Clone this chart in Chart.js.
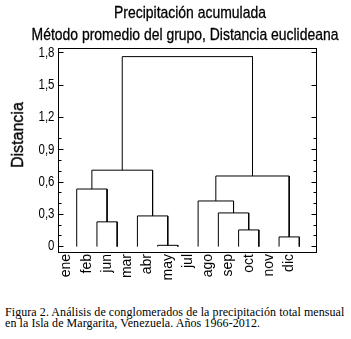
<!DOCTYPE html>
<html>
<head>
<meta charset="utf-8">
<script src="https://cdn.jsdelivr.net/npm/chart.js@4"></script>
<style>
  body { margin: 0; background: #fff; }
  #wrap { position: relative; width: 351px; height: 339px; background: #fff; overflow: hidden; }
  #c { position: absolute; left: 0; top: 0; }
  .ttl { position: absolute; font: 17px 'Liberation Sans', Arial, sans-serif; color: #000; white-space: nowrap;
         transform: translate(-50%, -50%) scaleX(0.82); -webkit-text-stroke: 0.3px #000; }
  #ylab { position: absolute; left: 17.5px; top: 135px; transform: translate(-50%, -50%) rotate(-90deg);
          font: 16px 'Liberation Sans', Arial, sans-serif; color: #000; white-space: nowrap; -webkit-text-stroke: 0.3px #000; }
  #cap { position: absolute; left: 5px; top: 307px; font: 12px 'Liberation Serif', 'Times New Roman', serif;
         line-height: 10.7px; letter-spacing: 0.07px; color: #000; white-space: nowrap; }
</style>
</head>
<body>
<div id="wrap">
  <canvas id="c" width="351" height="292"></canvas>
  <div class="ttl" style="left:190px;top:13px">Precipitación acumulada</div>
  <div class="ttl" style="left:184.5px;top:35px">Método promedio del grupo, Distancia euclideana</div>
  <div id="ylab">Distancia</div>
  <div id="cap">Figura 2. Análisis de conglomerados de la precipitación total mensual<br>en la Isla de Margarita, Venezuela. Años 1966-2012.</div>
</div>
<script>
// hojas del dendrograma, en el orden en que aparecen las etiquetas
var months = ["ene", "feb", "jun", "mar", "abr", "may", "jul", "ago", "sep", "oct", "nov", "dic"];

// uniones (0-11 = hojas, 12+ = grupos formados en cada paso)
var mergeLeft   = [1,    0,     4,     3,     13,   8,     7,     6,     10,   19,    16];
var mergeRight  = [2,    12,    5,     14,    15,   9,     17,    18,    11,   20,    21];
var mergeHeight = [0.23, 0.535, 0.012, 0.285, 0.71, 0.155, 0.313, 0.424, 0.09, 0.656, 1.765];

var yTickValues = [0, 0.3, 0.6, 0.9, 1.2, 1.5, 1.8];
var yTickLabels = ["0", "0,3", "0,6", "0,9", "1,2", "1,5", "1,8"];

var sans = "'Liberation Sans', Arial, sans-serif";

// posicion y altura de cada nodo
var nodeX = months.map(function(m, i) { return i; });
var nodeH = months.map(function() { return 0; });
var datasets = [];
mergeLeft.forEach(function(l, k) {
	var r = mergeRight[k], h = mergeHeight[k];
	datasets.push({
		data: [
			{x: nodeX[l], y: nodeH[l]},
			{x: nodeX[l], y: h},
			{x: nodeX[r], y: h},
			{x: nodeX[r], y: nodeH[r]}
		],
		borderColor: "#000",
		borderWidth: 1,
		pointRadius: 0,
		showLine: true,
		fill: false,
		tension: 0
	});
	nodeX.push((nodeX[l] + nodeX[r]) / 2);
	nodeH.push(h);
});

var minorTicks = [];
for (var t = 0; t <= 18; t++) {
	if (t % 3) minorTicks.push(t / 10);
}

var xMin = -0.9, xMax = 11.85, yMin = -0.05, yMax = 1.845;

function setTicks(values) {
	return function(scale) {
		scale.ticks = values.map(function(v) { return {value: v}; });
	};
}

// etiquetas del eje y estrechadas (como Arial Narrow)
function narrowLabels(s) {
	if (s._narrow) return;
	s._narrow = true;
	var draw = s.drawLabels;
	s.drawLabels = function(area) {
		var ctx = this.ctx, rx = this.right - 4;
		ctx.save();
		ctx.translate(rx, 0);
		ctx.scale(0.82, 1);
		ctx.translate(-rx, 0);
		draw.call(this, area);
		ctx.restore();
	};
}

function yAxis(pos, values, len, labels, weight) {
	return {
		type: 'linear',
		position: pos,
		min: yMin,
		max: yMax,
		weight: weight,
		afterBuildTicks: setTicks(values),
		afterFit: function(s) {
			s.width = labels ? 58.5 : 0;
			if (labels) narrowLabels(s);
		},
		border: { display: true, color: "#000", width: 1 },
		grid: { drawOnChartArea: false, drawTicks: true, tickLength: -len, tickColor: "#000", tickWidth: 1 },
		ticks: {
			display: labels,
			padding: 9,
			color: "#000",
			font: { family: sans, size: 14 },
			callback: function(v, i) { return yTickLabels[i]; }
		}
	};
}

new Chart(document.getElementById("c"), {
	type: 'scatter',
	data: { datasets: datasets },
	options: {
		responsive: false,
		animation: false,
		events: [],
		layout: { padding: { left: 0, right: 34.5, top: 48, bottom: 0 } },
		plugins: {
			legend: { display: false },
			tooltip: { enabled: false },
			title: { display: false }
		},
		scales: {
			x: {
				type: 'linear',
				position: 'bottom',
				min: xMin,
				max: xMax,
				afterBuildTicks: setTicks(months.map(function(m, i) { return i - 0.5; })),
				afterFit: function(s) { s.height = 40; },
				border: { display: true, color: "#000", width: 1 },
				grid: { drawOnChartArea: false, drawTicks: false },
				ticks: {
					minRotation: 90,
					maxRotation: 90,
					padding: 2,
					autoSkip: false,
					color: "#000",
					font: { family: sans, size: 14 },
					callback: function(v, i) { return months[i]; }
				}
			},
			xTop: {
				type: 'linear',
				position: 'top',
				min: xMin,
				max: xMax,
				afterFit: function(s) { s.height = 0; },
				border: { display: true, color: "#000", width: 1 },
				grid: { drawOnChartArea: false, drawTicks: false },
				ticks: { display: false }
			},
			y: yAxis('left', yTickValues, 5, true, 1),
			yMinor: yAxis('left', minorTicks, 3, false, 0),
			yR: yAxis('right', yTickValues, 5, false, 0),
			yRMinor: yAxis('right', minorTicks, 3, false, 1)
		}
	}
});
</script>
</body>
</html>
